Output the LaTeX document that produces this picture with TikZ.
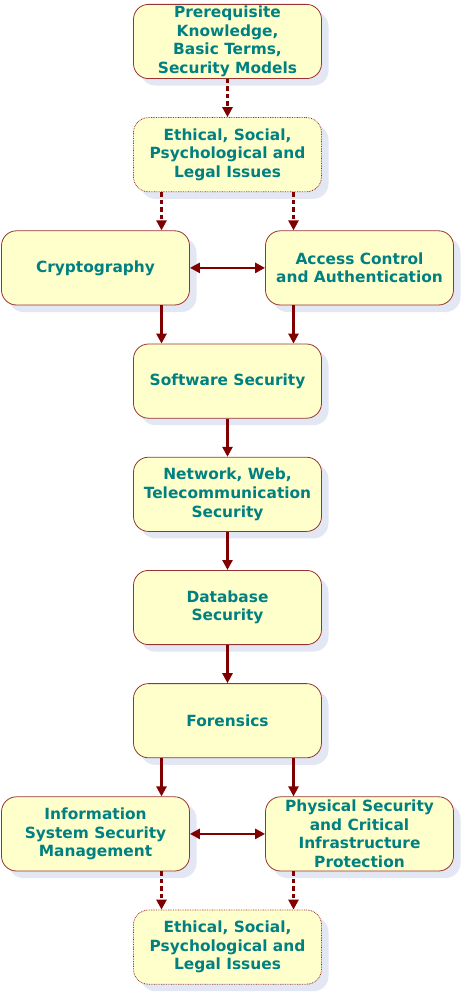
\documentclass[tikz,border=0pt]{standalone}
\usepackage{fontspec}
\setmainfont{DejaVu Sans}
\usepackage{tikz}
\usetikzlibrary{arrows.meta,positioning,shadows}
\definecolor{boxfill}{HTML}{FFFFCC}
\definecolor{boxline}{HTML}{993333}
\definecolor{boxtext}{HTML}{008080}
\definecolor{arrred}{HTML}{800000}
\definecolor{shadowc}{HTML}{E2E7F3}

\begin{document}
\begin{tikzpicture}[
  x=1pt, y=1pt,
  font=\fontsize{15.4}{18.6}\selectfont\bfseries,
  node distance=38.2pt and 75pt,
  box/.style={draw=boxline, line width=0.8pt, rounded corners=15pt, fill=boxfill, text=boxtext, align=center,
    inner xsep=1pt, inner ysep=0pt, minimum width=188pt, minimum height=74.2pt,
    drop shadow={shadow xshift=7pt, shadow yshift=-7pt, fill=shadowc, opacity=1}},
  ethics/.style={box, dash pattern=on 0.8pt off 0.9pt},
  arr/.style={draw=arrred, line width=2.6pt, -{Triangle[length=10pt,width=10pt]}},
  darr/.style={arr, dash pattern=on 4.5pt off 3pt},
  barr/.style={arr, {Triangle[length=10pt,width=10pt]}-{Triangle[length=10pt,width=10pt]}}
]
\useasboundingbox (0,0) rectangle (463,-995);

\node[box] (prereq) at (227.5,-41.5) {Prerequisite\\Knowledge,\\Basic Terms,\\Security Models};
\node[ethics, below=of prereq] (ethtop) {Ethical, Social,\\Psychological and\\Legal Issues};
\node[box, below=of ethtop, xshift=-132pt] (crypto) {Cryptography};
\node[box, below=of ethtop, xshift=132pt] (access) {Access Control\\and Authentication};
\node[box, below=of crypto, xshift=132pt] (soft) {Software Security};
\node[box, below=of soft] (net) {Network, Web,\\Telecommunication\\Security};
\node[box, below=of net] (db) {Database\\Security};
\node[box, below=of db] (foren) {Forensics};
\node[box, below=of foren, xshift=-132pt] (issm) {Information\\System Security\\Management};
\node[box, below=of foren, xshift=132pt] (phys) {Physical Security\\and Critical\\Infrastructure\\Protection};
\node[ethics, below=of issm, xshift=132pt] (ethbot) {Ethical, Social,\\Psychological and\\Legal Issues};

\draw[darr] (prereq) -- (ethtop);
\draw[darr] ([xshift=-66pt]ethtop.south) -- ([xshift=66pt]crypto.north);
\draw[darr] ([xshift=66pt]ethtop.south) -- ([xshift=-66pt]access.north);
\draw[barr] (crypto) -- (access);
\draw[arr] ([xshift=66pt]crypto.south) -- ([xshift=-66pt]soft.north);
\draw[arr] ([xshift=-66pt]access.south) -- ([xshift=66pt]soft.north);
\draw[arr] (soft) -- (net);
\draw[arr] (net) -- (db);
\draw[arr] (db) -- (foren);
\draw[arr] ([xshift=-66pt]foren.south) -- ([xshift=66pt]issm.north);
\draw[arr] ([xshift=66pt]foren.south) -- ([xshift=-66pt]phys.north);
\draw[barr] (issm) -- (phys);
\draw[darr] ([xshift=66pt]issm.south) -- ([xshift=-66pt]ethbot.north);
\draw[darr] ([xshift=-66pt]phys.south) -- ([xshift=66pt]ethbot.north);
\end{tikzpicture}
\end{document}
